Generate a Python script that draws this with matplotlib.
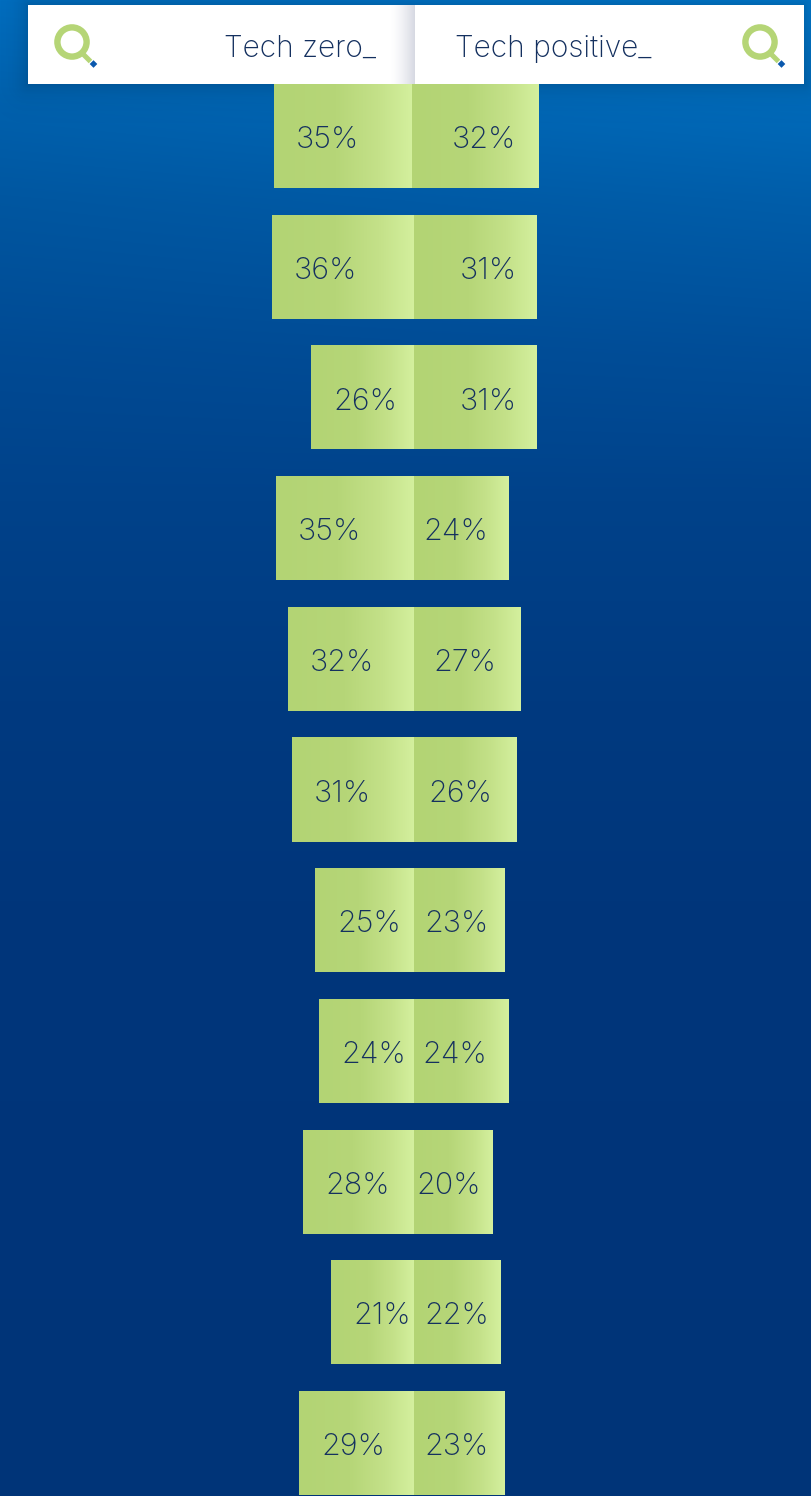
import numpy as np
import matplotlib
matplotlib.use("Agg")
import matplotlib.pyplot as plt
from matplotlib.colors import LinearSegmentedColormap
from matplotlib.patches import Circle, Rectangle, Polygon

W, H = 811, 1496

tech_zero = [35, 36, 26, 35, 32, 31, 25, 24, 28, 21, 29]
tech_positive = [32, 31, 31, 24, 27, 26, 23, 24, 20, 22, 23]
header_left = "Tech zero_"
header_right = "Tech positive_"

# space kept between a right bar's end and its label, px
right_gap = [22, 20, 20, 21, 24, 24, 16, 22, 12, 12, 16]

NAVY = "#14305f"
FONT = "Inter"

px = 3.95       # px per percent
pitch = 130.7   # px per row
y0 = 136
x0 = 414
first_row_shift = -2 / px  # top row sits slightly left of the others

fig = plt.figure(figsize=(W / 100, H / 100), dpi=100)

# page background
bg = fig.add_axes([0, 0, 1, 1])
bg.set_xlim(0, W)
bg.set_ylim(H, 0)
bg.axis("off")
yy = np.arange(H)
stops_y = [0, 100, 200, 350, 500, 700, 900, 1100, 1496]
stops_g = [116, 102, 90, 76, 66, 58, 54, 53, 52]
stops_b = [200, 180, 165, 150, 138, 128, 123, 122, 120]
img = np.zeros((H, W, 3))
xgain = np.linspace(-1, 1, W)[None, :] * np.clip(1 - yy[:, None] / 500, 0, 1)
img[..., 1] = np.interp(yy, stops_y, stops_g)[:, None] + 6 * xgain
img[..., 2] = np.interp(yy, stops_y, stops_b)[:, None] + 8 * xgain
bg.imshow(img / 255, extent=[0, W, H, 0], aspect="auto", interpolation="bilinear", zorder=0)

# soft shadow around the header strip
sx, sy = np.meshgrid(np.arange(W) + 0.5, np.arange(140) + 0.5)
dx = np.maximum(np.maximum(28 - sx, sx - 804), 0)
dy = np.maximum(np.maximum(5 - sy, sy - 84), 0)
shadow = np.zeros((140, W, 4))
shadow[..., 3] = 0.14 * np.exp(-np.hypot(dx, dy) / 11)
bg.imshow(shadow, extent=[0, W, 140, 0], aspect="auto", zorder=1)
bg.set_xlim(0, W)
bg.set_ylim(H, 0)

# bars, x in percent and y in rows
ax = fig.add_axes([0, 0, 1, 1])
ax.patch.set_alpha(0)
ax.axis("off")

cmap = LinearSegmentedColormap.from_list(
    "bar", [(0, "#b3d474"), (0.45, "#b6d678"), (0.75, "#c4e189"), (1, "#d4f09e")])
grad = np.linspace(0, 1, 256)[None, :]
rows = np.arange(len(tech_zero))
shifts = [first_row_shift] + [0] * (len(rows) - 1)


def gradient_bars(values, side):
    bars = ax.barh(rows, [side * v for v in values], height=0.796, left=shifts,
                   color="none", zorder=2)
    for bar, v, s in zip(bars, values, shifts):
        y = bar.get_y()
        left = s + min(0, side * v)
        im = ax.imshow(grad, extent=[left, left + v, y + bar.get_height(), y],
                       cmap=cmap, aspect="auto", zorder=2)
        im.set_clip_path(bar)


gradient_bars(tech_zero, -1)
gradient_bars(tech_positive, 1)
ax.set_xlim(-x0 / px, (W - x0) / px)
ax.set_ylim((H - y0) / pitch, -y0 / pitch)

for i, (a, b) in enumerate(zip(tech_zero, tech_positive)):
    ax.annotate(f"{a}%", (shifts[i] - a, i), xytext=(22 * 0.72, -3), textcoords="offset points",
                ha="left", va="center", fontsize=22, color=NAVY,
                family=FONT, weight="light", zorder=4)
    ax.annotate(f"{b}%", (shifts[i] + b, i), xytext=(-right_gap[i] * 0.72, -3), textcoords="offset points",
                ha="right", va="center", fontsize=22, color=NAVY,
                family=FONT, weight="light", zorder=4)

# header strip on top
top = fig.add_axes([0, 0, 1, 1])
top.patch.set_alpha(0)
top.axis("off")

top.add_patch(Rectangle((28, 5), 776, 79, fc="white", ec="none", zorder=5))
fade = np.ones((1, 64, 4))
fade[..., 0] = 0.84
fade[..., 1] = 0.85
fade[..., 2] = 0.89
fade[..., 3] = np.linspace(0, 1, 64) ** 1.5
top.imshow(fade, extent=[390, 415, 84, 5], aspect="auto", zorder=6)
top.set_xlim(0, W)
top.set_ylim(H, 0)

top.text(376, 57, header_left, ha="right", va="baseline", fontsize=21.5, color=NAVY,
         family=FONT, weight="light", zorder=7)
top.text(455, 57, header_right, ha="left", va="baseline", fontsize=21.5, color=NAVY,
         family=FONT, weight="light", zorder=7)


def magnifier(cx, cy):
    top.add_patch(Circle((cx, cy), 14.6, fc="none", ec="#b5d576", lw=4.6, zorder=7))
    top.plot([cx + 10, cx + 18.5], [cy + 11, cy + 19.5], color="#b5d576", lw=3.6,
             solid_capstyle="butt", zorder=7)
    dx, dy = cx + 21.5, cy + 22
    top.add_patch(Polygon([(dx - 3.8, dy), (dx, dy - 3.8), (dx + 3.8, dy), (dx, dy + 3.8)],
                          fc="#0a58ad", ec="none", zorder=7))


magnifier(72, 42)
magnifier(760, 42)

fig.savefig("out.png", dpi=100)
